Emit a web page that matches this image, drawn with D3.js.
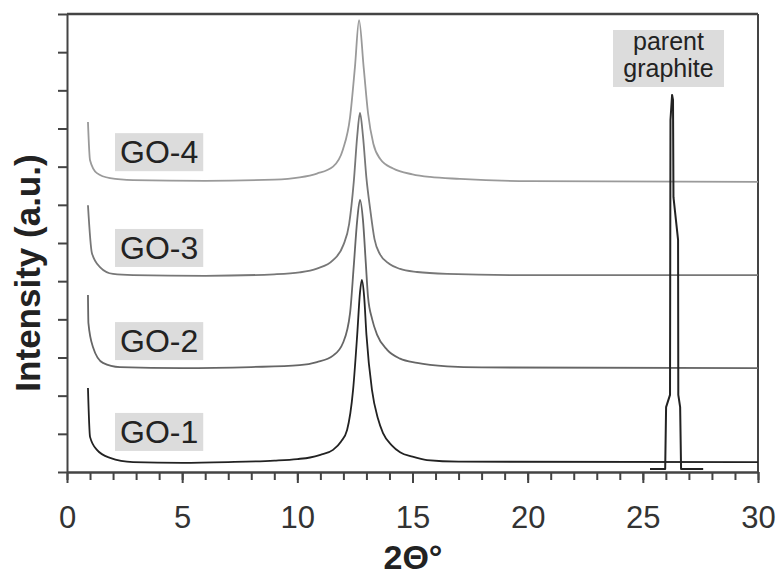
<!DOCTYPE html>
<html>
<head>
<meta charset="utf-8">
<script src="https://cdn.jsdelivr.net/npm/d3@7"></script>
<style>
  body { margin: 0; background: #fff; }
  svg { display: block; font-family: "Liberation Sans", Arial, sans-serif; }
</style>
</head>
<body>
<div id="chart"></div>
<script>
// XRD patterns, [2theta, intensity (a.u.)]
var go1 = [[0.91,2.20],[1.0,0.92],[1.3,0.58],[1.87,0.37],[2.87,0.26],[5,0.24],[7,0.26],[9,0.30],
    [10,0.34],[10.55,0.38],[11,0.45],[11.55,0.58],[11.9,0.8],[12.16,1.10],[12.42,2.15],[12.6,3.6],
    [12.72,4.7],[12.8,5.03],[12.9,4.6],[13.0,3.6],[13.24,2.15],[13.5,1.4],[13.72,1.02],[14.1,0.7],
    [14.46,0.52],[15,0.4],[15.63,0.31],[17,0.27],[30,0.26]];
var go2 = [[0.91,4.64],[0.93,3.9],[1.13,3.27],[1.56,2.86],[2.3,2.75],[5,2.72],[8,2.75],[10.1,2.8],
    [10.85,2.88],[11.55,3.05],[11.98,3.38],[12.29,4.17],[12.45,5.4],[12.6,6.6],[12.72,7.13],
    [12.85,6.6],[12.97,5.5],[13.07,4.58],[13.25,4.0],[13.46,3.6],[13.9,3.2],[14.46,2.97],
    [15.2,2.86],[16.5,2.77],[18,2.74],[30,2.72]];
var go3 = [[0.91,6.99],[1.08,5.74],[1.43,5.37],[2.0,5.19],[2.87,5.16],[6,5.14],[9,5.18],[10.1,5.23],
    [10.85,5.33],[11.55,5.55],[12.0,5.95],[12.25,6.5],[12.45,7.6],[12.6,8.8],[12.72,9.41],
    [12.85,8.8],[13.0,7.7],[13.16,6.9],[13.35,6.1],[13.59,5.7],[14.0,5.45],[14.46,5.32],
    [15.2,5.24],[16.5,5.19],[19.67,5.16],[30,5.16]];
var go4 = [[0.91,9.17],[1.0,8.17],[1.3,7.83],[1.87,7.70],[2.87,7.65],[6,7.63],[9,7.66],[10.1,7.72],
    [10.85,7.82],[11.55,8.0],[11.98,8.45],[12.29,9.3],[12.5,10.6],[12.68,11.84],[12.88,10.6],
    [13.07,9.4],[13.3,8.6],[13.6,8.2],[14.16,7.95],[15,7.8],[15.76,7.73],[17.06,7.68],[20.1,7.62],
    [30,7.6]];
var graphite = [[25.31,0.08],[25.97,0.08],[26.01,1.70],[26.18,2.02],[26.2,9.22],[26.27,9.88],
    [26.31,9.75],[26.33,7.2],[26.53,6.08],[26.54,2.02],[26.62,1.70],[26.66,0.08],[27.62,0.08]];

var seriesNames = ["GO-1", "GO-2", "GO-3", "GO-4"];
var seriesColors = ["#222", "#666", "#777", "#9a9a9a"];
var labelY = [1.05, 3.43, 5.87, 8.38];   // label centres, data units
var xTicks = d3.range(0, 31, 1);
var xMajor = [0, 5, 10, 15, 20, 25, 30];
var yTicks = d3.range(0, 13, 1);

var width = 779, height = 576;
var marginLeft = 67, plotRight = 758, plotTop = 14, plotBottom = 472;

var svg = d3.select("#chart").append("svg")
    .attr("width", width)
    .attr("height", height);

svg.append("rect").attr("width", width).attr("height", height).attr("fill", "#fff");

var x = d3.scaleLinear().domain([0, 30]).range([marginLeft, plotRight]);
var y = d3.scaleLinear().domain([0, 12]).range([plotBottom, plotTop]);

var axisColor = "#444";

// x axis: minor ticks, then major ticks with labels
var xMinor = svg.append("g")
    .attr("transform", "translate(0," + plotBottom + ")")
    .call(d3.axisBottom(x).tickValues(xTicks).tickFormat("").tickSize(8).tickSizeOuter(0));
var xAxis = svg.append("g")
    .attr("transform", "translate(0," + plotBottom + ")")
    .call(d3.axisBottom(x).tickValues(xMajor).tickSize(11).tickPadding(23).tickSizeOuter(0));
xAxis.selectAll("text")
    .attr("font-size", 31)
    .attr("fill", "#333")
    .attr("font-family", "Liberation Sans, Arial, sans-serif");

var yAxis = svg.append("g")
    .attr("transform", "translate(" + marginLeft + ",0)")
    .call(d3.axisLeft(y).tickValues(yTicks).tickFormat("").tickSize(9).tickSizeOuter(0));

[xMinor, xAxis, yAxis].forEach(function(g){
    g.selectAll("line").attr("stroke", axisColor).attr("stroke-width", 2);
    g.select(".domain").attr("stroke", axisColor).attr("stroke-width", 2);
});

// frame: top and right
svg.append("line")
    .attr("x1", marginLeft).attr("x2", plotRight).attr("y1", plotTop).attr("y2", plotTop)
    .attr("stroke", axisColor).attr("stroke-width", 2.5);
svg.append("line")
    .attr("x1", plotRight).attr("x2", plotRight).attr("y1", plotTop).attr("y2", plotBottom)
    .attr("stroke", axisColor).attr("stroke-width", 2);

var clip = svg.append("defs").append("clipPath").attr("id", "plotclip");
clip.append("rect").attr("x", marginLeft).attr("y", plotTop)
    .attr("width", plotRight - marginLeft).attr("height", plotBottom - plotTop);

var line = d3.line()
    .x(function(d){ return x(d[0]); })
    .y(function(d){ return y(d[1]); })
    .curve(d3.curveMonotoneX);

var plot = svg.append("g").attr("clip-path", "url(#plotclip)");

[go4, go3, go2, go1].forEach(function(s, i){
    plot.append("path")
        .datum(s)
        .attr("fill", "none")
        .attr("stroke", seriesColors[3 - i])
        .attr("stroke-width", 1.8)
        .attr("stroke-linejoin", "round")
        .attr("d", line);
});

plot.append("path")
    .datum(graphite)
    .attr("fill", "none")
    .attr("stroke", "#222")
    .attr("stroke-width", 2)
    .attr("stroke-linejoin", "round")
    .attr("d", line.curve(d3.curveLinear));

// sample labels in grey boxes
seriesNames.forEach(function(name, i){
    var g = svg.append("g");
    var cy = y(labelY[i]);
    var box = g.append("rect").attr("fill", "#dcdcdc");
    var t = g.append("text")
        .attr("x", 120)
        .attr("y", cy + 11)
        .attr("font-size", 32)
        .attr("fill", "#222")
        .text(name);
    var bb = t.node().getBBox();
    box.attr("x", bb.x - 5).attr("y", cy - 19).attr("width", bb.width + 10).attr("height", 38);
});

// parent graphite label
var pg = svg.append("g");
pg.append("rect")
    .attr("x", 613).attr("y", 30).attr("width", 111).attr("height", 57)
    .attr("fill", "#dcdcdc");
pg.selectAll("text")
    .data(["parent", "graphite"])
    .enter()
    .append("text")
    .attr("x", 668.5)
    .attr("y", function(d, i){ return 50 + i * 27; })
    .attr("text-anchor", "middle")
    .attr("font-size", 25)
    .attr("fill", "#222")
    .text(function(d){ return d; });

// axis titles
svg.append("text")
    .attr("transform", "translate(40,273) rotate(-90)")
    .attr("text-anchor", "middle")
    .attr("font-size", 35)
    .attr("font-weight", "bold")
    .attr("fill", "#222")
    .text("Intensity (a.u.)");

svg.append("text")
    .attr("x", 413)
    .attr("y", 569)
    .attr("text-anchor", "middle")
    .attr("font-size", 34)
    .attr("font-weight", "bold")
    .attr("fill", "#222")
    .text("2\u0398\u00b0");
</script>
</body>
</html>
